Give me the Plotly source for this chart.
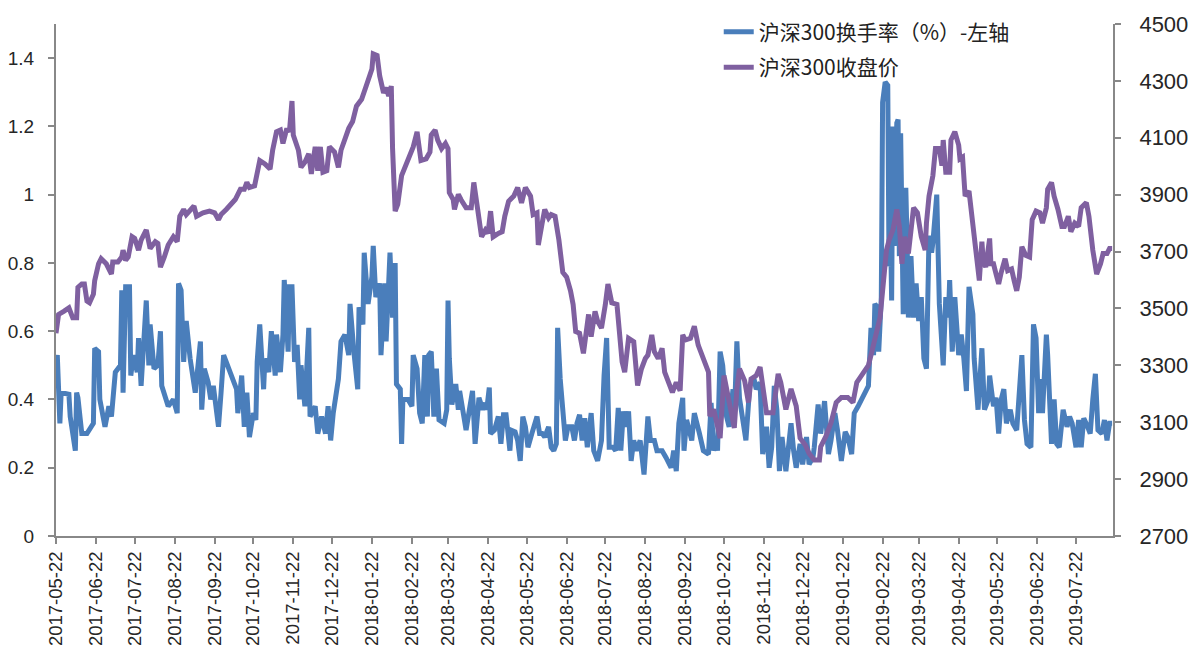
import plotly.graph_objects as go

turnover_dates = [
 "2017-05-22","2017-05-23","2017-05-25","2017-05-26","2017-06-01","2017-06-02","2017-06-06","2017-06-07","2017-06-08","2017-06-11",
 "2017-06-15","2017-06-20","2017-06-21","2017-06-24","2017-06-25","2017-06-29","2017-07-02","2017-07-04","2017-07-07","2017-07-11",
 "2017-07-12","2017-07-13","2017-07-15","2017-07-18","2017-07-19","2017-07-21","2017-07-24","2017-07-25","2017-07-27","2017-07-30",
 "2017-07-31","2017-08-02","2017-08-03","2017-08-06","2017-08-09","2017-08-11","2017-08-12","2017-08-17","2017-08-21","2017-08-24",
 "2017-08-25","2017-08-27","2017-08-29","2017-08-31","2017-09-03","2017-09-07","2017-09-09","2017-09-11","2017-09-12","2017-09-14",
 "2017-09-17","2017-09-19","2017-09-21","2017-09-25","2017-09-27","2017-09-29","2017-10-01",
 "2017-10-06","2017-10-09","2017-10-10","2017-10-13","2017-10-15","2017-10-17","2017-10-19","2017-10-22","2017-10-24","2017-10-25",
 "2017-10-27","2017-10-30","2017-10-31","2017-11-03","2017-11-05","2017-11-08","2017-11-09","2017-11-12","2017-11-14","2017-11-15",
 "2017-11-18","2017-11-19","2017-11-21","2017-11-23","2017-11-25","2017-11-27","2017-11-28","2017-12-01","2017-12-04","2017-12-05",
 "2017-12-09","2017-12-11","2017-12-14","2017-12-17","2017-12-19","2017-12-21","2017-12-23","2017-12-27","2017-12-29","2018-01-01",
 "2018-01-04","2018-01-05","2018-01-08","2018-01-11","2018-01-12","2018-01-15","2018-01-16","2018-01-19","2018-01-22","2018-01-23",
 "2018-01-25","2018-01-28","2018-01-29","2018-02-01","2018-02-02","2018-02-05","2018-02-07","2018-02-09","2018-02-10","2018-02-13",
 "2018-02-14","2018-02-15",
 "2018-02-19","2018-02-22","2018-02-23","2018-02-26","2018-02-28","2018-03-02","2018-03-04","2018-03-06","2018-03-07","2018-03-09",
 "2018-03-11","2018-03-13","2018-03-15","2018-03-19","2018-03-21","2018-03-22","2018-03-23","2018-03-25","2018-03-28","2018-03-30",
 "2018-03-31","2018-04-03","2018-04-05","2018-04-08","2018-04-10","2018-04-12","2018-04-14","2018-04-15","2018-04-18","2018-04-20",
 "2018-04-21","2018-04-23","2018-04-24","2018-04-27","2018-04-30","2018-05-02","2018-05-04","2018-05-06","2018-05-09","2018-05-10",
 "2018-05-13","2018-05-15","2018-05-17","2018-05-19","2018-05-21","2018-05-23","2018-05-26","2018-05-28","2018-05-30","2018-06-01",
 "2018-06-03","2018-06-05","2018-06-08","2018-06-10","2018-06-12","2018-06-14","2018-06-15","2018-06-17","2018-06-19","2018-06-21",
 "2018-06-23","2018-06-26","2018-06-28","2018-06-30","2018-07-02","2018-07-04",
 "2018-07-06","2018-07-08","2018-07-11","2018-07-13","2018-07-16","2018-07-19","2018-07-21","2018-07-23","2018-07-25","2018-07-28",
 "2018-07-30","2018-08-01","2018-08-03","2018-08-05","2018-08-07","2018-08-09","2018-08-11","2018-08-13","2018-08-15","2018-08-18",
 "2018-08-21","2018-08-24","2018-08-26","2018-08-29","2018-08-31","2018-09-04","2018-09-07","2018-09-11","2018-09-13","2018-09-15",
 "2018-09-17","2018-09-20","2018-09-21","2018-09-23","2018-09-27","2018-09-29","2018-10-03","2018-10-06","2018-10-10","2018-10-12",
 "2018-10-14","2018-10-16","2018-10-17","2018-10-19","2018-10-21","2018-10-24","2018-10-26","2018-10-29","2018-10-30","2018-11-01",
 "2018-11-03","2018-11-06","2018-11-08","2018-11-11","2018-11-14","2018-11-16","2018-11-19","2018-11-21",
 "2018-11-24","2018-11-26","2018-11-28","2018-11-30","2018-12-02","2018-12-04","2018-12-06","2018-12-09","2018-12-13","2018-12-15",
 "2018-12-17","2018-12-20","2018-12-22","2018-12-25","2018-12-27","2018-12-30","2018-12-31","2019-01-03","2019-01-05","2019-01-08",
 "2019-01-11","2019-01-13","2019-01-16","2019-01-18","2019-01-21","2019-01-24","2019-01-26","2019-01-29","2019-01-31","2019-02-03",
 "2019-02-07","2019-02-11","2019-02-13","2019-02-15","2019-02-16","2019-02-18","2019-02-19","2019-02-21","2019-02-22","2019-02-24",
 "2019-02-26","2019-02-27","2019-02-28","2019-03-01","2019-03-02","2019-03-03","2019-03-05","2019-03-06","2019-03-07","2019-03-08",
 "2019-03-10","2019-03-12","2019-03-13","2019-03-14","2019-03-16","2019-03-18","2019-03-20","2019-03-22","2019-03-24","2019-03-26",
 "2019-03-28","2019-03-30","2019-04-01","2019-04-02","2019-04-05",
 "2019-04-07","2019-04-10","2019-04-12","2019-04-14","2019-04-15","2019-04-17","2019-04-19","2019-04-22","2019-04-24","2019-04-26",
 "2019-04-28","2019-04-30","2019-05-03","2019-05-04","2019-05-07","2019-05-10","2019-05-12","2019-05-15","2019-05-16","2019-05-19",
 "2019-05-21","2019-05-23","2019-05-25","2019-05-27","2019-05-29","2019-06-01","2019-06-03","2019-06-06","2019-06-08","2019-06-10",
 "2019-06-12","2019-06-14","2019-06-17","2019-06-19","2019-06-21","2019-06-23","2019-06-24","2019-06-26","2019-06-29","2019-06-30",
 "2019-07-03","2019-07-05","2019-07-07","2019-07-09","2019-07-12","2019-07-15","2019-07-17","2019-07-19","2019-07-22","2019-07-24",
 "2019-07-26","2019-07-28","2019-07-31","2019-08-02","2019-08-04","2019-08-06","2019-08-08","2019-08-11","2019-08-13","2019-08-15",
 "2019-08-17","2019-08-19",
]
turnover_values = [
 0.50,0.53,0.33,0.42,0.415,0.35,0.25,0.42,0.405,0.30,
 0.30,0.33,0.55,0.54,0.40,0.32,0.38,0.35,0.48,0.50,
 0.72,0.42,0.73,0.73,0.47,0.53,0.48,0.58,0.44,0.60,
 0.69,0.50,0.62,0.49,0.50,0.60,0.44,0.38,0.40,0.36,
 0.74,0.72,0.51,0.63,0.52,0.42,0.49,0.57,0.37,0.49,
 0.45,0.40,0.44,0.32,0.42,0.53,0.51,
 0.46,0.43,0.36,0.47,0.32,0.42,0.29,0.36,0.34,0.51,
 0.62,0.43,0.52,0.48,0.60,0.47,0.59,0.48,0.59,0.75,
 0.54,0.73,0.73,0.51,0.56,0.40,0.50,0.38,0.61,0.35,
 0.38,0.30,0.35,0.30,0.38,0.28,0.36,0.46,0.57,0.59,
 0.53,0.68,0.54,0.43,0.67,0.62,0.83,0.68,0.76,0.85,
 0.70,0.74,0.53,0.74,0.57,0.83,0.64,0.80,0.445,0.43,
 0.27,0.40,
 0.40,0.38,0.53,0.49,0.36,0.33,0.53,0.35,0.53,0.54,
 0.35,0.49,0.34,0.33,0.37,0.69,0.52,0.385,0.445,0.37,
 0.425,0.36,0.31,0.38,0.425,0.27,0.37,0.405,0.37,0.39,
 0.37,0.435,0.30,0.31,0.35,0.27,0.355,0.355,0.25,0.31,
 0.305,0.28,0.22,0.35,0.32,0.26,0.30,0.32,0.35,0.30,
 0.30,0.29,0.32,0.26,0.25,0.27,0.61,0.46,0.35,0.28,
 0.32,0.32,0.28,0.33,0.355,0.28,
 0.345,0.26,0.36,0.25,0.22,0.28,0.47,0.58,0.26,0.26,
 0.25,0.375,0.25,0.365,0.32,0.365,0.22,0.28,0.25,0.28,
 0.18,0.35,0.28,0.28,0.25,0.25,0.23,0.20,0.25,0.19,
 0.33,0.405,0.25,0.34,0.28,0.36,0.30,0.25,0.24,0.39,
 0.25,0.28,0.25,0.54,0.50,0.35,0.32,0.43,0.34,0.57,
 0.405,0.32,0.28,0.44,0.465,0.43,0.45,0.24,
 0.32,0.20,0.26,0.44,0.37,0.19,0.29,0.19,0.33,0.25,
 0.20,0.27,0.21,0.29,0.21,0.23,0.26,0.385,0.30,0.395,
 0.24,0.28,0.36,0.31,0.22,0.305,0.29,0.24,0.36,0.38,
 0.41,0.44,0.61,0.53,0.68,0.67,0.54,0.70,1.27,1.33,
 1.32,0.79,0.94,0.69,1.20,0.85,1.21,1.22,0.82,1.18,
 0.65,1.02,0.86,0.64,0.82,0.64,0.74,0.63,0.70,0.52,
 0.49,0.88,0.83,0.86,1.00,
 0.68,0.50,0.70,0.64,0.75,0.54,0.70,0.53,0.59,0.52,
 0.425,0.73,0.65,0.52,0.37,0.55,0.37,0.40,0.47,0.38,
 0.405,0.30,0.40,0.43,0.33,0.37,0.33,0.31,0.44,0.53,
 0.34,0.27,0.26,0.62,0.58,0.36,0.46,0.36,0.59,0.53,
 0.27,0.40,0.27,0.26,0.37,0.32,0.35,0.33,0.26,0.34,
 0.26,0.345,0.32,0.30,0.40,0.475,0.31,0.30,0.34,0.28,
 0.33,0.33,
]

close_dates = [
 "2017-05-22","2017-05-24","2017-05-28","2017-06-01","2017-06-04","2017-06-07","2017-06-08","2017-06-11","2017-06-13","2017-06-15",
 "2017-06-17","2017-06-20","2017-06-21","2017-06-24","2017-06-26","2017-06-30","2017-07-04","2017-07-05","2017-07-09","2017-07-12",
 "2017-07-13","2017-07-15","2017-07-17","2017-07-20","2017-07-22","2017-07-25","2017-07-27","2017-07-31","2017-08-03","2017-08-07",
 "2017-08-09","2017-08-11","2017-08-14","2017-08-17","2017-08-21","2017-08-24","2017-08-26","2017-08-29","2017-08-31","2017-09-06",
 "2017-09-08","2017-09-13","2017-09-18","2017-09-22","2017-09-25","2017-09-27","2017-10-01","2017-10-08","2017-10-12","2017-10-15",
 "2017-10-17","2017-10-19","2017-10-23","2017-10-27","2017-10-31","2017-11-04","2017-11-06","2017-11-09","2017-11-12","2017-11-14",
 "2017-11-17","2017-11-19","2017-11-21","2017-11-22","2017-11-26","2017-11-28","2017-12-01","2017-12-04","2017-12-06","2017-12-09",
 "2017-12-11","2017-12-13","2017-12-15","2017-12-18","2017-12-20","2017-12-24","2017-12-27","2017-12-29","2018-01-04","2018-01-07",
 "2018-01-10","2018-01-14","2018-01-18","2018-01-22","2018-01-23","2018-01-26","2018-01-28","2018-01-31","2018-02-02","2018-02-04",
 "2018-02-06","2018-02-07","2018-02-09","2018-02-11","2018-02-14","2018-02-15","2018-02-19","2018-02-23","2018-02-26","2018-02-28",
 "2018-03-01","2018-03-05","2018-03-08","2018-03-09","2018-03-12","2018-03-14","2018-03-17","2018-03-20","2018-03-22","2018-03-23",
 "2018-03-26","2018-03-27","2018-03-30","2018-04-01","2018-04-05","2018-04-09","2018-04-11","2018-04-14","2018-04-17","2018-04-20",
 "2018-04-22","2018-04-24","2018-04-26","2018-04-30","2018-05-03","2018-05-05","2018-05-08","2018-05-12","2018-05-15","2018-05-18",
 "2018-05-21","2018-05-25","2018-05-27","2018-05-30","2018-05-31","2018-06-03","2018-06-05","2018-06-08","2018-06-10","2018-06-13",
 "2018-06-16","2018-06-19","2018-06-22","2018-06-25","2018-06-27","2018-06-29","2018-07-02","2018-07-05","2018-07-09","2018-07-11",
 "2018-07-14","2018-07-16","2018-07-19","2018-07-22","2018-07-24","2018-07-27","2018-07-31","2018-08-04","2018-08-06","2018-08-09",
 "2018-08-13","2018-08-16","2018-08-19","2018-08-22","2018-08-24","2018-08-27","2018-08-29","2018-09-01","2018-09-04","2018-09-06",
 "2018-09-10","2018-09-12","2018-09-15","2018-09-18","2018-09-20","2018-09-22","2018-09-26","2018-09-29","2018-10-02","2018-10-06",
 "2018-10-10","2018-10-11","2018-10-14","2018-10-17","2018-10-19","2018-10-22","2018-10-24","2018-10-26","2018-10-30","2018-11-01",
 "2018-11-03","2018-11-07","2018-11-10","2018-11-12","2018-11-16","2018-11-19","2018-11-21","2018-11-24","2018-11-29","2018-12-03",
 "2018-12-05","2018-12-09","2018-12-13","2018-12-17","2018-12-20","2018-12-24","2018-12-27","2018-12-31","2019-01-04","2019-01-05",
 "2019-01-09","2019-01-13","2019-01-17","2019-01-21","2019-01-26","2019-01-30","2019-02-02","2019-02-07","2019-02-11","2019-02-13",
 "2019-02-16","2019-02-18","2019-02-20","2019-02-22","2019-02-25","2019-02-27","2019-03-02","2019-03-05","2019-03-07","2019-03-09",
 "2019-03-11","2019-03-14","2019-03-18","2019-03-21","2019-03-24","2019-03-27","2019-03-28","2019-03-30","2019-04-02","2019-04-04",
 "2019-04-07","2019-04-09","2019-04-10","2019-04-12","2019-04-15","2019-04-16","2019-04-19","2019-04-22","2019-04-23","2019-04-25",
 "2019-04-27","2019-04-30","2019-05-03","2019-05-06","2019-05-08","2019-05-10","2019-05-11","2019-05-13","2019-05-16","2019-05-17",
 "2019-05-19","2019-05-21","2019-05-23","2019-05-25","2019-05-28","2019-05-30","2019-06-02","2019-06-04","2019-06-06","2019-06-08",
 "2019-06-10","2019-06-13","2019-06-16","2019-06-18","2019-06-21","2019-06-24","2019-06-26","2019-06-29","2019-06-30","2019-07-03",
 "2019-07-05","2019-07-08","2019-07-11","2019-07-13","2019-07-16","2019-07-18","2019-07-21","2019-07-24","2019-07-26","2019-07-30",
 "2019-08-01","2019-08-04","2019-08-07","2019-08-10","2019-08-12","2019-08-15","2019-08-17","2019-08-19",
]
close_values = [
 3413,3479,3490,3502,3467,3467,3574,3586,3586,3526,
 3520,3550,3598,3657,3675,3657,3621,3663,3663,3681,
 3705,3669,3681,3752,3746,3705,3740,3776,3711,3735,
 3729,3645,3681,3723,3752,3735,3824,3848,3830,3860,
 3824,3836,3842,3836,3812,3830,3848,3883,3919,3919,
 3943,3925,3931,4020,4008,3990,4056,4121,4127,4080,
 4133,4121,4229,4110,4056,3996,4014,4044,3973,4068,
 3984,4068,3979,3984,4068,4050,3996,4056,4133,4157,
 4211,4235,4288,4342,4395,4389,4318,4258,4276,4247,
 4282,4062,3842,3866,3967,3979,4026,4068,4121,4050,
 4020,4026,4050,4110,4127,4092,4062,4080,4062,3907,
 3883,3848,3901,3883,3854,3854,3943,3848,3752,3776,
 3764,3842,3752,3764,3770,3824,3877,3895,3925,3871,
 3925,3895,3830,3836,3723,3800,3848,3818,3830,3824,
 3740,3627,3610,3562,3514,3419,3413,3342,3479,3401,
 3490,3455,3431,3514,3586,3520,3514,3312,3276,3395,
 3383,3229,3288,3324,3336,3407,3348,3324,3360,3276,
 3229,3205,3240,3211,3407,3389,3395,3437,3371,3318,
 3276,3121,3145,3086,3044,3264,3217,3181,3080,3217,
 3288,3246,3169,3252,3264,3294,3217,3133,3133,3270,
 3240,3145,3217,3157,3044,3020,2990,2967,2967,3014,
 3050,3098,3169,3187,3187,3169,3240,3276,3300,3336,
 3401,3443,3467,3562,3705,3740,3776,3848,3788,3657,
 3752,3693,3854,3836,3752,3705,3800,3895,3967,4062,
 4062,4002,4092,3979,3979,4092,4121,4074,4026,4032,
 3895,3913,3800,3693,3598,3735,3669,3645,3746,3657,
 3657,3621,3586,3627,3675,3633,3639,3598,3562,3610,
 3717,3687,3681,3812,3842,3836,3800,3854,3919,3943,
 3895,3848,3788,3788,3824,3770,3800,3788,3854,3872,
 3824,3705,3621,3657,3693,3693,3711,3711,
]

x_tick_dates = [
 "2017-05-22","2017-06-22","2017-07-22","2017-08-22","2017-09-22","2017-10-22","2017-11-22","2017-12-22",
 "2018-01-22","2018-02-22","2018-03-22","2018-04-22","2018-05-22","2018-06-22","2018-07-22","2018-08-22",
 "2018-09-22","2018-10-22","2018-11-22","2018-12-22","2019-01-22","2019-02-22","2019-03-22","2019-04-22",
 "2019-05-22","2019-06-22","2019-07-22",
]
left_ticks = [0, 0.2, 0.4, 0.6, 0.8, 1.0, 1.2, 1.4]
left_tick_text = ["0", "0.2", "0.4", "0.6", "0.8", "1", "1.2", "1.4"]
right_ticks = [2700, 2900, 3100, 3300, 3500, 3700, 3900, 4100, 4300, 4500]

name_turnover = "沪深300换手率（%）-左轴"
name_close = "沪深300收盘价"

BLUE = "#4A7EBB"
PURPLE = "#7F60A0"
AXIS = "#888888"
TXT = "#262626"

fig = go.Figure()
fig.add_trace(go.Scatter(x=turnover_dates, y=turnover_values, name=name_turnover, mode="lines",
                         line=dict(color=BLUE, width=5), yaxis="y", legendgroup="a"))
fig.add_trace(go.Scatter(x=close_dates, y=close_values, name=name_close, mode="lines",
                         line=dict(color=PURPLE, width=5), yaxis="y2", legendgroup="b"))

fig.update_layout(
    width=1188, height=642,
    margin=dict(l=48, r=83, t=16, b=114, autoexpand=False),
    plot_bgcolor="white", paper_bgcolor="white",
    font=dict(family="Liberation Sans, Arial, sans-serif", color=TXT),
    showlegend=True,
    legend=dict(x=0.627, y=1.024, xanchor="left", yanchor="top",
                font=dict(family="Noto Sans CJK SC", size=21, color="#222222"),
                bgcolor="rgba(0,0,0,0)", tracegroupgap=5, itemwidth=30),
    xaxis=dict(type="date", range=["2017-05-22", "2019-08-19 16:00"],
               tickvals=x_tick_dates, tickformat="%Y-%m-%d", tickangle=-90,
               tickfont=dict(size=18.5, color=TXT), automargin=False, ticklabelstandoff=0,
               showline=True, linecolor=AXIS, linewidth=2,
               ticks="outside", ticklen=6, tickcolor=AXIS, tickwidth=2,
               showgrid=False, zeroline=False),
    yaxis=dict(range=[0, 1.5], tickvals=left_ticks, ticktext=left_tick_text,
               tickfont=dict(size=19, color=TXT), automargin=False, ticklabelstandoff=10,
               showline=True, linecolor=AXIS, linewidth=2,
               ticks="outside", ticklen=6, tickcolor=AXIS, tickwidth=2,
               showgrid=False, zeroline=False),
    yaxis2=dict(range=[2700, 4500], tickvals=right_ticks, overlaying="y", side="right",
                tickfont=dict(size=22, color=TXT), automargin=False, ticklabelstandoff=14,
                showline=True, linecolor=AXIS, linewidth=2,
                ticks="outside", ticklen=6, tickcolor=AXIS, tickwidth=2,
                showgrid=False, zeroline=False),
)

fig.write_html("out.html")
